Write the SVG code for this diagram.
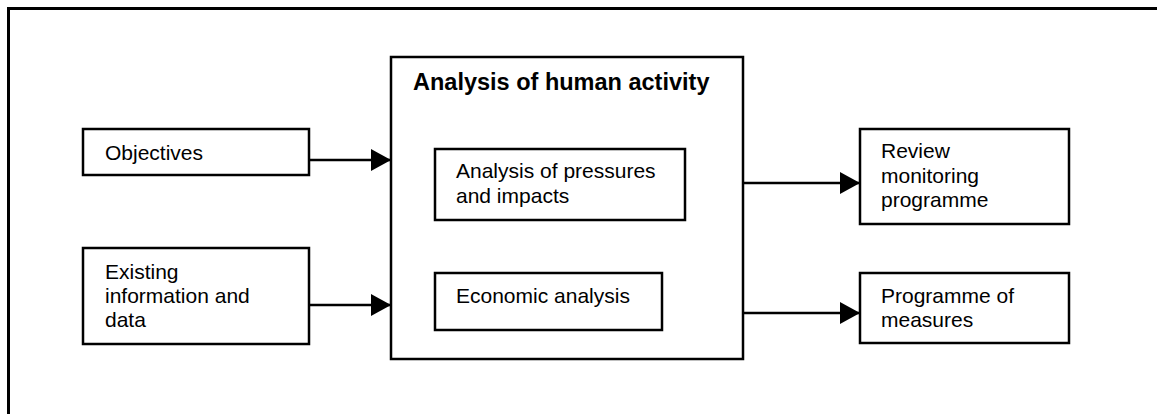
<svg xmlns="http://www.w3.org/2000/svg" width="1157" height="414" viewBox="0 0 1157 414">
<style>
.box{fill:#fff;stroke:#000;stroke-width:2.5}
.t{font-family:"Liberation Sans",Arial,sans-serif;font-size:21px;fill:#000}
.b{font-family:"Liberation Sans",Arial,sans-serif;font-size:23.5px;font-weight:bold;fill:#000}
.c{stroke:#000;stroke-width:2.5;fill:none}
</style>
<defs>
<marker id="ah" markerUnits="userSpaceOnUse" viewBox="0 0 20 22" refX="20" refY="11" markerWidth="20" markerHeight="22" orient="auto">
<path d="M0,0 L20,11 L0,22 Z" fill="#000"/>
</marker>
</defs>
<rect width="1157" height="414" fill="#fff"/>
<g id="frame">
<path d="M8.5,414 V8.5 H1157" fill="none" stroke="#000" stroke-width="3"/>
</g>
<g id="objectives">
<rect class="box" x="83" y="129" width="226" height="46"/>
<text class="t" x="105" y="160">Objectives</text>
</g>
<g id="existing">
<rect class="box" x="83" y="248" width="226" height="96"/>
<text class="t" x="105" y="279">Existing</text>
<text class="t" x="105" y="303">information and</text>
<text class="t" x="105" y="327">data</text>
</g>
<g id="human-activity">
<rect class="box" x="391" y="57" width="352" height="302"/>
<text class="b" x="413" y="90">Analysis of human activity</text>
</g>
<g id="pressures">
<rect class="box" x="435" y="149" width="250" height="71"/>
<text class="t" x="456" y="178">Analysis of pressures</text>
<text class="t" x="456" y="203">and impacts</text>
</g>
<g id="economic">
<rect class="box" x="435" y="273" width="227" height="57"/>
<text class="t" x="456" y="303">Economic analysis</text>
</g>
<g id="review">
<rect class="box" x="860" y="129" width="209" height="95"/>
<text class="t" x="881" y="158">Review</text>
<text class="t" x="881" y="183">monitoring</text>
<text class="t" x="881" y="207">programme</text>
</g>
<g id="measures">
<rect class="box" x="860" y="273" width="209" height="70"/>
<text class="t" x="881" y="303">Programme of</text>
<text class="t" x="881" y="327">measures</text>
</g>
<g id="connectors">
<line class="c" x1="309" y1="160" x2="391" y2="160" marker-end="url(#ah)"/>
<line class="c" x1="309" y1="305" x2="391" y2="305" marker-end="url(#ah)"/>
<line class="c" x1="743" y1="183" x2="860" y2="183" marker-end="url(#ah)"/>
<line class="c" x1="743" y1="313" x2="860" y2="313" marker-end="url(#ah)"/>
</g>
</svg>
